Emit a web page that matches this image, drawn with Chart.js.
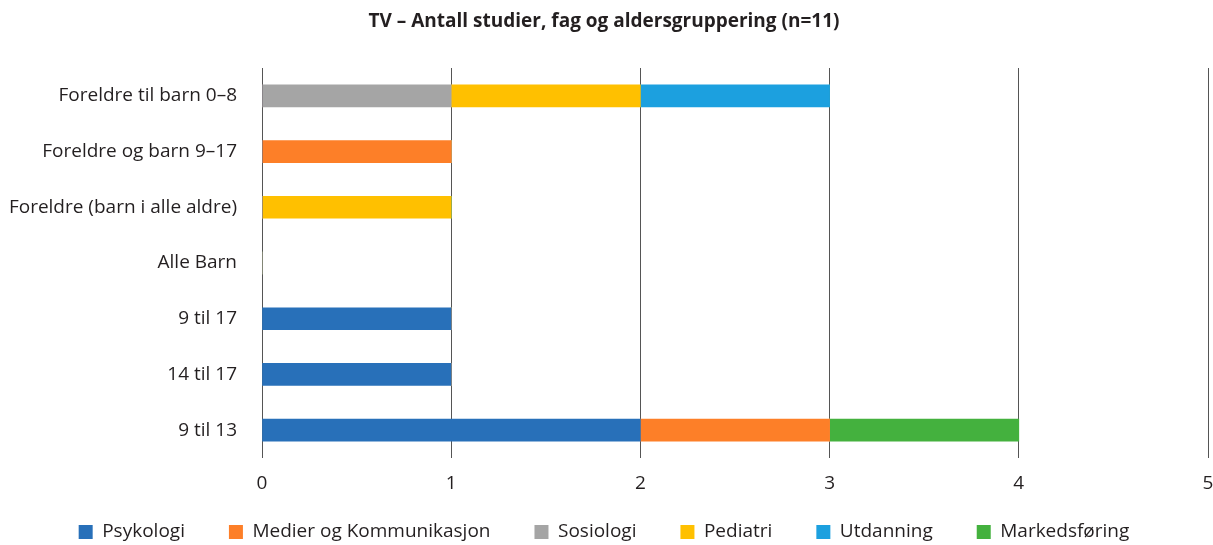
<!DOCTYPE html>
<html>
<head>
<meta charset="UTF-8">
<title>TV – Antall studier</title>
<script src="https://cdn.jsdelivr.net/npm/chart.js"></script>
<style>
  html, body { margin: 0; padding: 0; background: #ffffff; }
  #wrap { width: 1213px; height: 545px; position: relative; }
</style>
</head>
<body>
<div id="wrap"><canvas id="chart" width="1213" height="545"></canvas></div>
<script>
// categories top to bottom
const groups = [
  'Foreldre til barn 0–8',
  'Foreldre og barn 9–17',
  'Foreldre (barn i alle aldre)',
  'Alle Barn',
  '9 til 17',
  '14 til 17',
  '9 til 13'
];

const psykologi     = [0, 0, 0, 0, 1, 1, 2];
const medier        = [0, 1, 0, 0, 0, 0, 1];
const sosiologi     = [1, 0, 0, 0, 0, 0, 0];
const pediatri      = [1, 0, 1, 0, 0, 0, 0];
const utdanning     = [1, 0, 0, 0, 0, 0, 0];
const markedsforing = [0, 0, 0, 0, 0, 0, 1];

const xTicks = [0, 1, 2, 3, 4, 5];

const font = "'Open Sans', 'Noto Sans', sans-serif";
const ink = '#231f20';
const legendGap = 44;

const series = [
  { label: 'Psykologi', data: psykologi, color: '#2870b9' },
  { label: 'Medier og Kommunikasjon', data: medier, color: '#fd7f28' },
  { label: 'Sosiologi', data: sosiologi, color: '#a5a5a5' },
  { label: 'Pediatri', data: pediatri, color: '#ffc000' },
  { label: 'Utdanning', data: utdanning, color: '#1ca0df' },
  { label: 'Markedsføring', data: markedsforing, color: '#44b13e' }
];

// legend padding also pushes the text down, so pull the legend box up after layout
const legendLift = {
  id: 'legendLift',
  afterLayout(chart) {
    const lg = chart.legend;
    if (!lg) return;
    const h = lg.bottom - lg.top;
    lg.top = 532 - legendGap - 9.5;
    lg.bottom = lg.top + h;
  }
};

new Chart(document.getElementById('chart'), {
  type: 'bar',
  data: {
    labels: groups,
    datasets: series.map(s => ({
      label: s.label,
      data: s.data,
      backgroundColor: s.color,
      borderWidth: 0,
      barThickness: 22
    }))
  },
  plugins: [legendLift],
  options: {
    indexAxis: 'y',
    responsive: false,
    animation: false,
    devicePixelRatio: 1,
    layout: { padding: { left: 0, right: 5, top: 0, bottom: -26 } },
    plugins: {
      title: {
        display: true,
        text: 'TV – Antall studier, fag og aldersgruppering (n=11)',
        color: ink,
        font: { family: font, size: 19, weight: 'bold' },
        padding: { top: 10.6, bottom: 34.6 }
      },
      legend: {
        position: 'bottom',
        labels: {
          color: ink,
          font: { family: font, size: 19 },
          boxWidth: 14,
          boxHeight: 14,
          padding: legendGap
        }
      },
      tooltip: { enabled: false }
    },
    scales: {
      x: {
        stacked: true,
        min: 0,
        max: 5,
        afterBuildTicks: axis => { axis.ticks = xTicks.map(v => ({ value: v })); },
        afterFit: axis => { axis.height = 40; axis.paddingRight = 0; axis.paddingLeft = 0; },
        grid: { color: '#555555', lineWidth: 1, drawTicks: false },
        border: { display: false },
        ticks: { color: ink, font: { family: font, size: 19 }, padding: 14 }
      },
      y: {
        stacked: true,
        afterFit: axis => { axis.width = 262; },
        grid: { display: false },
        border: { display: false },
        ticks: { color: ink, font: { family: font, size: 19 }, padding: 17 }
      }
    }
  }
});
</script>
</body>
</html>
